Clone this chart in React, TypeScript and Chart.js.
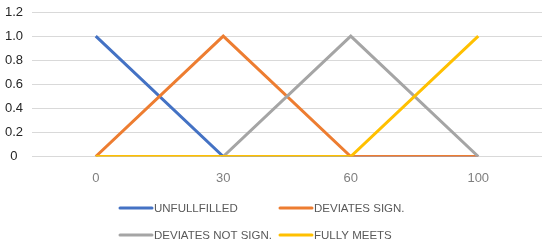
import React, { useEffect, useRef } from "react";
import { Chart, registerables } from "chart.js";

Chart.register(...registerables);

const categories = ["0", "30", "60", "100"];
const unfulfilled = [1, 0, 0, 0];
const deviatesSign = [0, 1, 0, 0];
const deviatesNotSign = [0, 0, 1, 0];
const fullyMeets = [0, 0, 0, 1];
const seriesNames = ["UNFULLFILLED", "DEVIATES SIGN.", "DEVIATES NOT SIGN.", "FULLY MEETS"];
const seriesColors = ["#4472C4", "#ED7D31", "#A5A5A5", "#FFC000"];
const yTicks = [0, 0.2, 0.4, 0.6, 0.8, 1.0, 1.2];

const FONT = "'Liberation Sans', Arial, sans-serif";

const legendPlugin = {
  id: "gridLegend",
  afterDraw(chart: any) {
    const ctx = chart.ctx;
    const cols = [120, 280];
    const rows = [208, 235];
    ctx.save();
    ctx.font = `11.5px ${FONT}`;
    ctx.textBaseline = "middle";
    ctx.textAlign = "left";
    chart.data.datasets.forEach((ds: any, i: number) => {
      const x = cols[i % 2];
      const y = rows[Math.floor(i / 2)];
      ctx.strokeStyle = ds.borderColor;
      ctx.lineWidth = 3;
      ctx.lineCap = "round";
      ctx.beginPath();
      ctx.moveTo(x, y);
      ctx.lineTo(x + 32, y);
      ctx.stroke();
      ctx.fillStyle = "#595959";
      ctx.fillText(ds.label, x + 34, y + 0.5);
    });
    ctx.restore();
  },
};

export default function App() {
  const ref = useRef<HTMLCanvasElement>(null);
  useEffect(() => {
    document.body.style.margin = "0";
    const series = [unfulfilled, deviatesSign, deviatesNotSign, fullyMeets];
    const chart = new Chart(ref.current!, {
      type: "line",
      data: {
        labels: categories,
        datasets: series.map((d, i) => ({
          label: seriesNames[i],
          data: d,
          borderColor: seriesColors[i],
          backgroundColor: seriesColors[i],
          borderWidth: 3,
          pointRadius: 0,
          tension: 0,
          order: series.length - i,
        })),
      },
      options: {
        animation: false,
        responsive: false,
        maintainAspectRatio: false,
        layout: { padding: { top: 12, right: 8, bottom: 59.5, left: 0 } },
        plugins: { legend: { display: false }, tooltip: { enabled: false } },
        scales: {
          x: {
            offset: true,
            grid: { display: false, drawTicks: false },
            border: { display: false },
            ticks: { color: "#7f7f7f", font: { family: FONT, size: 13 }, padding: 14 },
            afterFit: (s: any) => { s.height = 30; },
          },
          y: {
            min: 0,
            max: 1.2,
            afterBuildTicks: (s: any) => { s.ticks = yTicks.map((v) => ({ value: v })); },
            grid: { color: "#d9d9d9", lineWidth: 1, drawTicks: false },
            border: { display: false },
            ticks: {
              color: "#262626",
              font: { family: FONT, size: 13 },
              padding: 9,
              crossAlign: "center",
              callback: (v: any) => (Number(v) === 0 ? "0" : Number(v).toFixed(1)),
            },
            afterFit: (s: any) => { s.width = 32; s.paddingTop = 0; s.paddingBottom = 0; },
          },
        },
      },
      plugins: [legendPlugin],
    });
    return () => chart.destroy();
  }, []);
  return <canvas ref={ref} width={550} height={246} style={{ display: "block" }} />;
}
